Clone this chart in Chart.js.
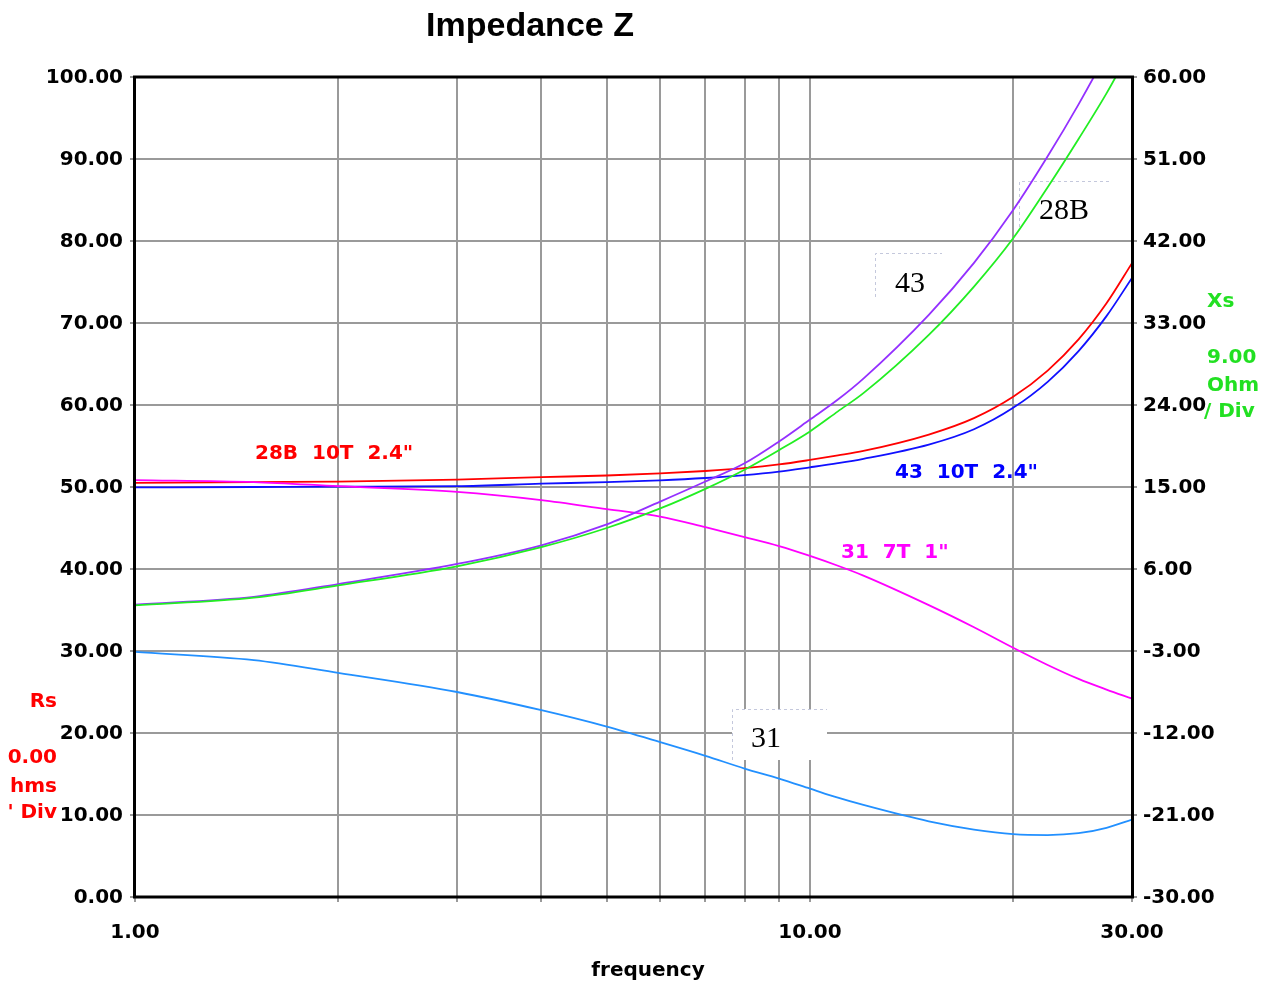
<!DOCTYPE html>
<html>
<head>
<meta charset="utf-8">
<script src="https://cdn.jsdelivr.net/npm/chart.js@4.4.0/dist/chart.umd.min.js"></script>
<style>
  html, body { margin: 0; padding: 0; background: #ffffff; }
  #wrap { width: 1274px; height: 985px; }
</style>
</head>
<body>
<div id="wrap"><canvas id="c" width="1274" height="985"></canvas></div>
<script>
// ---- data ----
const freq   = [1, 1.5, 2, 3, 4, 5, 6, 7, 8, 9, 10, 11, 12, 15, 17.5, 20, 22.5, 25, 27.5, 30];
// Rs series (left axis, ohms)
const rs28B  = [50.5, 50.6, 50.65, 50.9, 51.2, 51.4, 51.65, 51.95, 52.3, 52.75, 53.3, 53.85, 54.4, 56.4, 58.4, 61.0, 64.2, 68.0, 72.4, 77.3];
const rs43   = [49.95, 50.0, 50.04, 50.1, 50.4, 50.6, 50.82, 51.1, 51.45, 51.88, 52.4, 52.9, 53.43, 55.17, 57.04, 59.65, 62.82, 66.58, 70.84, 75.5];
const rs31   = [50.85, 50.6, 50.1, 49.4, 48.4, 47.3, 46.4, 45.1, 43.9, 42.8, 41.6, 40.4, 39.2, 35.6, 32.9, 30.4, 28.3, 26.6, 25.3, 24.2];
// Xs series (right axis, ohms)
const xs43   = [2.1, 2.95, 4.35, 6.55, 8.6, 10.9, 13.4, 15.6, 17.6, 20.0, 22.4, 24.6, 26.9, 33.9, 39.6, 45.4, 51.3, 57.0, 62.6, 68.1];
const xs28B  = [2.0, 2.85, 4.2, 6.3, 8.4, 10.5, 12.65, 14.8, 16.9, 19.05, 21.1, 23.3, 25.3, 31.7, 37.0, 42.3, 47.9, 53.2, 58.2, 63.3];
const xs31   = [-3.1, -4.0, -5.4, -7.5, -9.5, -11.3, -13.0, -14.5, -15.9, -17.0, -18.1, -19.1, -19.9, -21.7, -22.6, -23.1, -23.2, -23.0, -22.4, -21.5];

// axis ticks
const xGridValues  = [1, 2, 3, 4, 5, 6, 7, 8, 9, 10, 20, 30];
const xLabelValues = [1, 10, 30];
const rsTickStep = 10;  // left axis 0..100
const xsTickStep = 9;   // right axis -30..60

// texts
const chartTitle = 'Impedance Z';
const xTitle = 'frequency';
const rsTitleLines = ['Rs', '0.00', 'hms', "' Div"];
const xsTitleLines = ['Xs', '9.00', 'Ohm', '/ Div'];
const seriesLabels = ['28B  10T  2.4"', '43  10T  2.4"', '31  7T  1"'];
const boxLabels = ['28B', '43', '31'];

const pts = (arr) => freq.map((f, i) => ({ x: f, y: arr[i] }));
const tickFont = { family: 'DejaVu Sans', size: 20, weight: 'bold' };
const GRID = '#9a9a9a';

function lineDs(label, arr, color, axis) {
  return {
    label, data: pts(arr), yAxisID: axis,
    borderColor: color, backgroundColor: color,
    borderWidth: 1.8, pointRadius: 0, fill: false,
    cubicInterpolationMode: 'monotone'
  };
}

const overlay = {
  id: 'overlay',
  beforeDraw(chart) {
    const ctx = chart.ctx;
    ctx.save();
    ctx.fillStyle = '#ffffff';
    ctx.fillRect(0, 0, chart.width, chart.height);
    ctx.restore();
  },
  beforeDatasetsDraw(chart) {
    const ctx = chart.ctx;
    ctx.save();
    const boxes = [
      { t: boxLabels[0], x: 1019, y: 181, w: 91, h: 46, tx: 1039, ty: 219 },
      { t: boxLabels[1], x: 875, y: 253, w: 67, h: 44, tx: 895, ty: 292 },
      { t: boxLabels[2], x: 732, y: 709, w: 95, h: 51, tx: 751, ty: 747 }
    ];
    boxes.forEach(b => {
      ctx.fillStyle = '#ffffff';
      ctx.fillRect(b.x, b.y, b.w, b.h);
      ctx.strokeStyle = '#c4c8dc';
      ctx.lineWidth = 1;
      ctx.setLineDash([3, 3]);
      ctx.beginPath();
      ctx.moveTo(b.x + 0.5, b.y + b.h);
      ctx.lineTo(b.x + 0.5, b.y + 0.5);
      ctx.lineTo(b.x + b.w, b.y + 0.5);
      ctx.stroke();
      ctx.setLineDash([]);
      ctx.fillStyle = '#000000';
      ctx.font = '30px "Liberation Serif", "Times New Roman", serif';
      ctx.textAlign = 'left';
      ctx.textBaseline = 'alphabetic';
      ctx.fillText(b.t, b.tx, b.ty);
    });
    ctx.restore();
  },
  afterDatasetsDraw(chart) {
    const ctx = chart.ctx;
    const a = chart.chartArea;
    ctx.save();
    // frame
    ctx.strokeStyle = '#000000';
    ctx.lineWidth = 3;
    ctx.strokeRect(a.left - 0.5, a.top, a.right - a.left + 1, a.bottom - a.top);

    ctx.textBaseline = 'alphabetic';
    // title
    ctx.fillStyle = '#000000';
    ctx.font = 'bold 34px "Liberation Sans", Arial, sans-serif';
    ctx.textAlign = 'center';
    ctx.fillText(chartTitle, 530, 36);
    // x title
    ctx.font = 'bold 20px "DejaVu Sans"';
    ctx.fillText(xTitle, 648, 976);

    // series labels
    ctx.textAlign = 'left';
    ctx.fillStyle = '#ff0000';
    ctx.fillText(seriesLabels[0], 255, 459);
    ctx.fillStyle = '#0000ff';
    ctx.fillText(seriesLabels[1], 895, 478);
    ctx.fillStyle = '#ff00ff';
    ctx.fillText(seriesLabels[2], 841, 558);

    // left axis title (Rs)
    ctx.fillStyle = '#ff0000';
    ctx.textAlign = 'right';
    const rsY = [707, 763, 792, 818];
    rsTitleLines.forEach((t, i) => ctx.fillText(t, 57, rsY[i]));
    // right axis title (Xs)
    ctx.fillStyle = '#22e022';
    ctx.textAlign = 'left';
    const xsY = [307, 363, 391, 417];
    const xsX = [1207, 1207, 1207, 1204];
    xsTitleLines.forEach((t, i) => ctx.fillText(t, xsX[i], xsY[i]));
    ctx.restore();
  }
};

new Chart(document.getElementById('c'), {
  type: 'line',
  data: {
    datasets: [
      lineDs('31 Xs', xs31, '#2290ff', 'y2'),
      lineDs('28B Xs', xs28B, '#22ee22', 'y2'),
      lineDs('43 Xs', xs43, '#9430ff', 'y2'),
      lineDs('31 7T 1" Rs', rs31, '#ff00ff', 'y'),
      lineDs('43 10T 2.4" Rs', rs43, '#1010ff', 'y'),
      lineDs('28B 10T 2.4" Rs', rs28B, '#ff0000', 'y')
    ]
  },
  options: {
    responsive: false,
    animation: false,
    devicePixelRatio: 1,
    layout: { padding: { top: 77, left: 0, right: 0, bottom: 0 } },
    plugins: { legend: { display: false }, tooltip: { enabled: false }, title: { display: false } },
    scales: {
      x: {
        type: 'logarithmic', position: 'bottom', min: 1, max: 30,
        afterBuildTicks: (axis) => { axis.ticks = xGridValues.map(v => ({ value: v })); },
        afterFit: (axis) => { axis.height = 88; },
        border: { display: false },
        grid: { color: GRID, lineWidth: 2, tickLength: 5 },
        ticks: {
          autoSkip: false, maxRotation: 0, minRotation: 0, padding: 19,
          color: '#000000', font: tickFont,
          callback: (v) => xLabelValues.includes(v) ? Number(v).toFixed(2) : ''
        }
      },
      y: {
        type: 'linear', position: 'left', min: 0, max: 100,
        afterFit: (axis) => { axis.width = 135; },
        border: { display: false },
        grid: { color: GRID, lineWidth: 2, tickLength: 5 },
        ticks: {
          stepSize: rsTickStep, padding: 7, color: '#000000', font: tickFont, labelOffset: 1,
          callback: (v) => Number(v).toFixed(2)
        }
      },
      y2: {
        type: 'linear', position: 'right', min: -30, max: 60,
        afterFit: (axis) => { axis.width = 142; },
        border: { display: false },
        grid: { drawOnChartArea: false, color: GRID, lineWidth: 2, tickLength: 5 },
        ticks: {
          stepSize: xsTickStep, padding: 6, color: '#000000', font: tickFont, labelOffset: 1,
          callback: (v) => Number(v).toFixed(2)
        }
      }
    }
  },
  plugins: [overlay]
});
</script>
</body>
</html>
